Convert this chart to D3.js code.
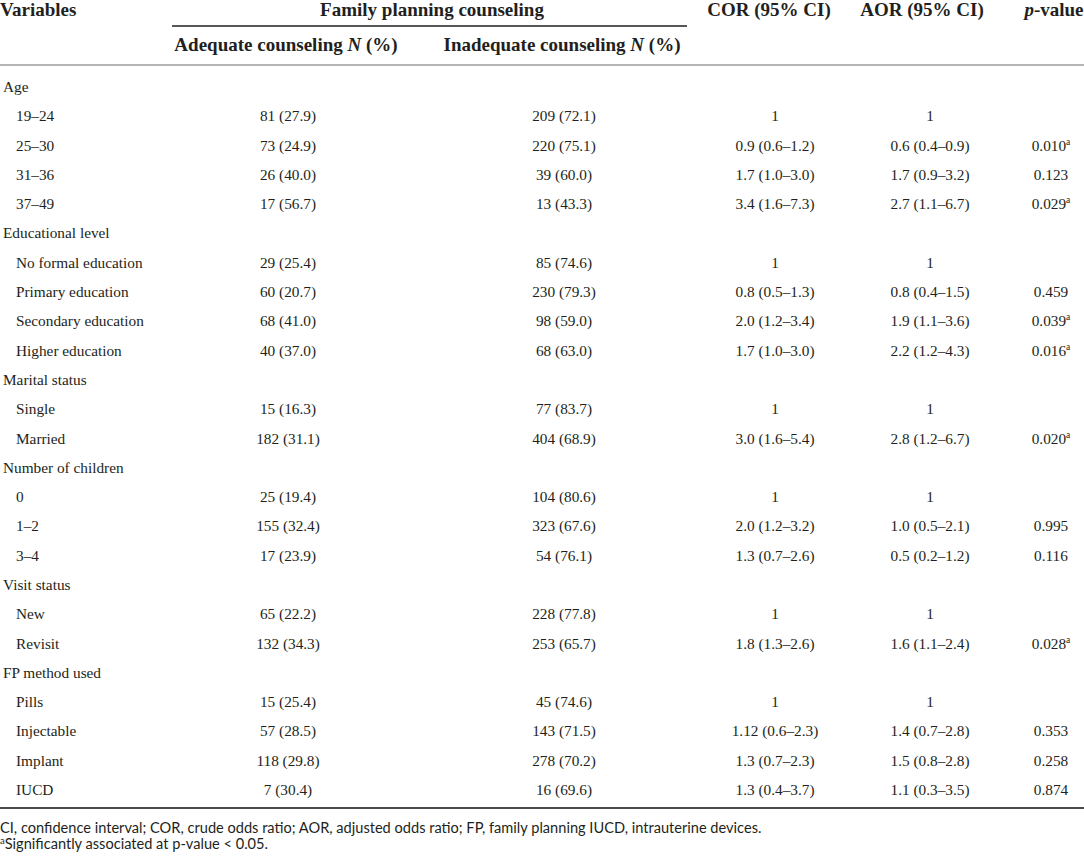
<!DOCTYPE html>
<html>
<head>
<meta charset="utf-8">
<script src="https://cdn.jsdelivr.net/npm/d3@7"></script>
<style>
  html, body { margin: 0; padding: 0; background: #fff; }
  svg { display: block; }
  .serif { font-family: "Liberation Serif", "Times New Roman", serif; fill: #231f20; }
  .hdr { font-weight: bold; font-size: 19px; }
  .cell { font-size: 15.3px; }
  .note { font-family: Lato, "Open Sans", sans-serif; font-size: 14.6px; fill: #231f20; }
</style>
</head>
<body>
<div id="main"></div>
<script>
const WIDTH = 1084, HEIGHT = 857;

// table content
const groupNames = ["Age", "Educational level", "Marital status", "Number of children", "Visit status", "FP method used"];
const levelNames = [
    ["19–24", "25–30", "31–36", "37–49"],
    ["No formal education", "Primary education", "Secondary education", "Higher education"],
    ["Single", "Married"],
    ["0", "1–2", "3–4"],
    ["New", "Revisit"],
    ["Pills", "Injectable", "Implant", "IUCD"]
];
const adequateN = [81, 73, 26, 17, 29, 60, 68, 40, 15, 182, 25, 155, 17, 65, 132, 15, 57, 118, 7];
const adequatePct = [27.9, 24.9, 40.0, 56.7, 25.4, 20.7, 41.0, 37.0, 16.3, 31.1, 19.4, 32.4, 23.9, 22.2, 34.3, 25.4, 28.5, 29.8, 30.4];
const inadequateN = [209, 220, 39, 13, 85, 230, 98, 68, 77, 404, 104, 323, 54, 228, 253, 45, 143, 278, 16];
const inadequatePct = [72.1, 75.1, 60.0, 43.3, 74.6, 79.3, 59.0, 63.0, 83.7, 68.9, 80.6, 67.6, 76.1, 77.8, 65.7, 74.6, 71.5, 70.2, 69.6];
const corValues = ["1", "0.9 (0.6–1.2)", "1.7 (1.0–3.0)", "3.4 (1.6–7.3)",
    "1", "0.8 (0.5–1.3)", "2.0 (1.2–3.4)", "1.7 (1.0–3.0)",
    "1", "3.0 (1.6–5.4)",
    "1", "2.0 (1.2–3.2)", "1.3 (0.7–2.6)",
    "1", "1.8 (1.3–2.6)",
    "1", "1.12 (0.6–2.3)", "1.3 (0.7–2.3)", "1.3 (0.4–3.7)"];
const aorValues = ["1", "0.6 (0.4–0.9)", "1.7 (0.9–3.2)", "2.7 (1.1–6.7)",
    "1", "0.8 (0.4–1.5)", "1.9 (1.1–3.6)", "2.2 (1.2–4.3)",
    "1", "2.8 (1.2–6.7)",
    "1", "1.0 (0.5–2.1)", "0.5 (0.2–1.2)",
    "1", "1.6 (1.1–2.4)",
    "1", "1.4 (0.7–2.8)", "1.5 (0.8–2.8)", "1.1 (0.3–3.5)"];
const pValues = ["", "0.010", "0.123", "0.029", "", "0.459", "0.039", "0.016", "", "0.020",
    "", "0.995", "0.116", "", "0.028", "", "0.353", "0.258", "0.874"];
const significant = pValues.map(p => p !== "" && +p < 0.05);

const columnKeys = ["adequate", "inadequate", "cor", "aor", "p"];
const footNotes = [
    "CI, confidence interval; COR, crude odds ratio; AOR, adjusted odds ratio; FP, family planning IUCD, intrauterine devices.",
    "Significantly associated at p-value < 0.05."
];

// flatten groups + levels into table rows
let rows = [];
let k = 0;
groupNames.forEach((g, gi) => {
    rows.push({ label: g, group: true });
    levelNames[gi].forEach(l => {
        rows.push({
            label: l, group: false,
            adequate: `${adequateN[k]} (${adequatePct[k].toFixed(1)})`,
            inadequate: `${inadequateN[k]} (${inadequatePct[k].toFixed(1)})`,
            cor: corValues[k],
            aor: aorValues[k],
            p: pValues[k],
            sig: significant[k]
        });
        k++;
    });
});

let svg = d3.select("#main").append("svg")
    .attr("width", WIDTH)
    .attr("height", HEIGHT);

let y = d3.scalePoint().domain(d3.range(rows.length)).range([92, 795]);
let x = d3.scaleOrdinal().domain(columnKeys).range([288, 564, 775, 930, 1051]);

// header
svg.append("text").attr("class", "serif hdr")
    .attr("x", 0).attr("y", 16).text("Variables");

svg.append("text").attr("class", "serif hdr")
    .attr("x", 432).attr("y", 16).attr("text-anchor", "middle")
    .text("Family planning counseling");

svg.append("line")
    .attr("x1", 172).attr("x2", 687).attr("y1", 26).attr("y2", 26)
    .attr("stroke", "#231f20").attr("stroke-width", 1.5);

[["adequate", "Adequate counseling "], ["inadequate", "Inadequate counseling "]].forEach(([key, txt]) => {
    let t = svg.append("text").attr("class", "serif hdr")
        .attr("x", x(key) - 2).attr("y", 51).attr("text-anchor", "middle");
    t.append("tspan").text(txt);
    t.append("tspan").attr("font-style", "italic").text("N");
    t.append("tspan").text(" (%)");
});

svg.append("text").attr("class", "serif hdr")
    .attr("x", x("cor") - 6).attr("y", 16).attr("text-anchor", "middle").text("COR (95% CI)");
svg.append("text").attr("class", "serif hdr")
    .attr("x", x("aor") - 8).attr("y", 16).attr("text-anchor", "middle").text("AOR (95% CI)");
let pHead = svg.append("text").attr("class", "serif hdr")
    .attr("x", x("p") + 3).attr("y", 16).attr("text-anchor", "middle");
pHead.append("tspan").attr("font-style", "italic").text("p");
pHead.append("tspan").text("-value");

svg.append("line")
    .attr("x1", 0).attr("x2", WIDTH).attr("y1", 65).attr("y2", 65)
    .attr("stroke", "#6d6d6d").attr("stroke-width", 1.2);

// body
let rowG = svg.selectAll("g.row")
    .data(rows)
    .enter()
    .append("g")
    .attr("class", "row")
    .attr("transform", (d, i) => `translate(0,${y(i)})`);

rowG.append("text").attr("class", "serif cell")
    .attr("x", d => d.group ? 3 : 16)
    .text(d => d.label);

columnKeys.forEach(key => {
    let cells = rowG.filter(d => !d.group && d[key])
        .append("text").attr("class", "serif cell")
        .attr("x", x(key))
        .attr("text-anchor", "middle");
    cells.append("tspan").text(d => d[key]);
    if (key === "p") {
        cells.filter(d => d.sig)
            .append("tspan")
            .attr("font-size", "9.5px")
            .attr("dy", -6)
            .text("a");
    }
});

svg.append("line")
    .attr("x1", 0).attr("x2", WIDTH).attr("y1", 808).attr("y2", 808)
    .attr("stroke", "#4a4a4a").attr("stroke-width", 2);

// notes
svg.append("text").attr("class", "note")
    .attr("x", 0).attr("y", 833).text(footNotes[0]);
let n2 = svg.append("text").attr("class", "note").attr("x", 0).attr("y", 849);
n2.append("tspan").attr("font-size", "9.5px").attr("dy", -5).text("a");
n2.append("tspan").attr("dy", 5).text(footNotes[1]);
</script>
</body>
</html>
